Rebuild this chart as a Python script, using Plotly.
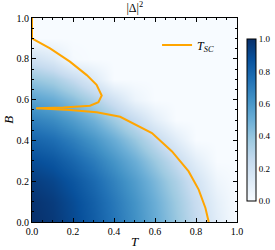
import plotly.graph_objects as go

# Grid of the order-parameter map |Delta|^2
T_grid = [0.0, 0.1, 0.2, 0.3, 0.4, 0.5, 0.6, 0.7, 0.8, 0.9, 1.0]
B_grid = [0.0, 0.1, 0.2, 0.3, 0.4, 0.5, 0.6, 0.7, 0.8, 0.9, 1.0]
delta_sq = [
    [1.000, 0.967, 0.907, 0.829, 0.737, 0.633, 0.517, 0.392, 0.257, 0.113, 0.000],
    [0.988, 0.955, 0.894, 0.815, 0.722, 0.617, 0.500, 0.373, 0.236, 0.091, 0.000],
    [0.951, 0.917, 0.856, 0.777, 0.683, 0.576, 0.458, 0.330, 0.192, 0.046, 0.000],
    [0.889, 0.854, 0.791, 0.709, 0.612, 0.501, 0.380, 0.247, 0.105, 0.000, 0.000],
    [0.802, 0.765, 0.698, 0.611, 0.508, 0.391, 0.261, 0.120, 0.000, 0.000, 0.000],
    [0.691, 0.651, 0.578, 0.484, 0.372, 0.245, 0.106, 0.000, 0.000, 0.000, 0.000],
    [0.556, 0.512, 0.431, 0.326, 0.202, 0.061, 0.000, 0.000, 0.000, 0.000, 0.000],
    [0.395, 0.344, 0.250, 0.128, 0.000, 0.000, 0.000, 0.000, 0.000, 0.000, 0.000],
    [0.210, 0.141, 0.015, 0.000, 0.000, 0.000, 0.000, 0.000, 0.000, 0.000, 0.000],
    [0.000, 0.000, 0.000, 0.000, 0.000, 0.000, 0.000, 0.000, 0.000, 0.000, 0.000],
    [0.000, 0.000, 0.000, 0.000, 0.000, 0.000, 0.000, 0.000, 0.000, 0.000, 0.000],
]

# T_SC transition line
tsc_T = [0.0, 0.0, 0.006, 0.088, 0.185, 0.267, 0.315, 0.34, 0.324, 0.283, 0.153, 0.02,
         0.185, 0.315, 0.43, 0.488, 0.585, 0.683, 0.764, 0.813, 0.846, 0.862]
tsc_B = [1.0, 0.90, 0.897, 0.851, 0.786, 0.72, 0.672, 0.62, 0.587, 0.57, 0.561, 0.557,
         0.549, 0.538, 0.516, 0.485, 0.436, 0.346, 0.248, 0.159, 0.069, 0.0]

tick_vals = [0.0, 0.2, 0.4, 0.6, 0.8, 1.0]
tick_text = ["0.0", "0.2", "0.4", "0.6", "0.8", "1.0"]

blues = [
    [0.0, "#f7fbff"], [0.125, "#deebf7"], [0.25, "#c6dbef"], [0.375, "#9ecae1"],
    [0.5, "#6baed6"], [0.625, "#4292c6"], [0.75, "#2171b5"], [0.875, "#08519c"],
    [1.0, "#08306b"],
]

FONT = "Liberation Serif"

fig = go.Figure()
fig.add_trace(go.Heatmap(
    x=T_grid, y=B_grid, z=delta_sq, zmin=0, zmax=1, zsmooth="best",
    colorscale=blues, showscale=True, hoverinfo="skip",
    colorbar=dict(
        x=1.049, xanchor="left", xpad=0, y=0.5, yanchor="middle", ypad=0,
        thickness=9, thicknessmode="pixels", len=162, lenmode="pixels",
        outlinewidth=1, outlinecolor="black",
        tickvals=tick_vals, ticktext=tick_text, ticks="", ticklen=0,
        tickfont=dict(family=FONT, size=9, color="black"),
    ),
))
fig.add_trace(go.Scatter(
    x=tsc_T, y=tsc_B, mode="lines", name="<i>T</i><sub><i>SC</i></sub>",
    line=dict(color="#ffa500", width=2),
))

axis_common = dict(
    range=[0, 1], showline=True, linecolor="black", linewidth=1, mirror="allticks",
    ticks="inside", ticklen=4, tickcolor="black", tickwidth=1,
    tickvals=tick_vals, ticktext=tick_text, showgrid=False, zeroline=False,
    tickfont=dict(family=FONT, size=10, color="black"),
    minor=dict(dtick=0.05, ticks="inside", ticklen=2, tickcolor="black", showgrid=False),
    automargin=False,
)

fig.update_layout(
    width=275, height=250,
    margin=dict(l=32, r=38, t=18, b=28, autoexpand=False),
    plot_bgcolor="white", paper_bgcolor="white",
    font=dict(family=FONT, color="black"),
    title=dict(text="|Δ|<sup>2</sup>", x=0.49, xanchor="center", y=0.985, yanchor="top",
               font=dict(family=FONT, size=12)),
    xaxis=dict(**axis_common),
    yaxis=dict(**axis_common),
    annotations=[
        dict(text="<i>T</i>", xref="paper", yref="paper", x=0.5, y=-0.095,
             xanchor="center", yanchor="middle", showarrow=False,
             font=dict(family=FONT, size=13)),
        dict(text="<i>B</i>", xref="paper", yref="paper", x=-0.118, y=0.5,
             xanchor="center", yanchor="middle", showarrow=False, textangle=-90,
             font=dict(family=FONT, size=13)),
    ],
    legend=dict(x=0.61, xanchor="left", y=0.868, yanchor="middle", bgcolor="rgba(0,0,0,0)",
                font=dict(family=FONT, size=12), borderwidth=0),
    showlegend=True,
)

fig.write_html("out.html", config={"displayModeBar": False},
               post_script="document.body.style.margin='0';")
